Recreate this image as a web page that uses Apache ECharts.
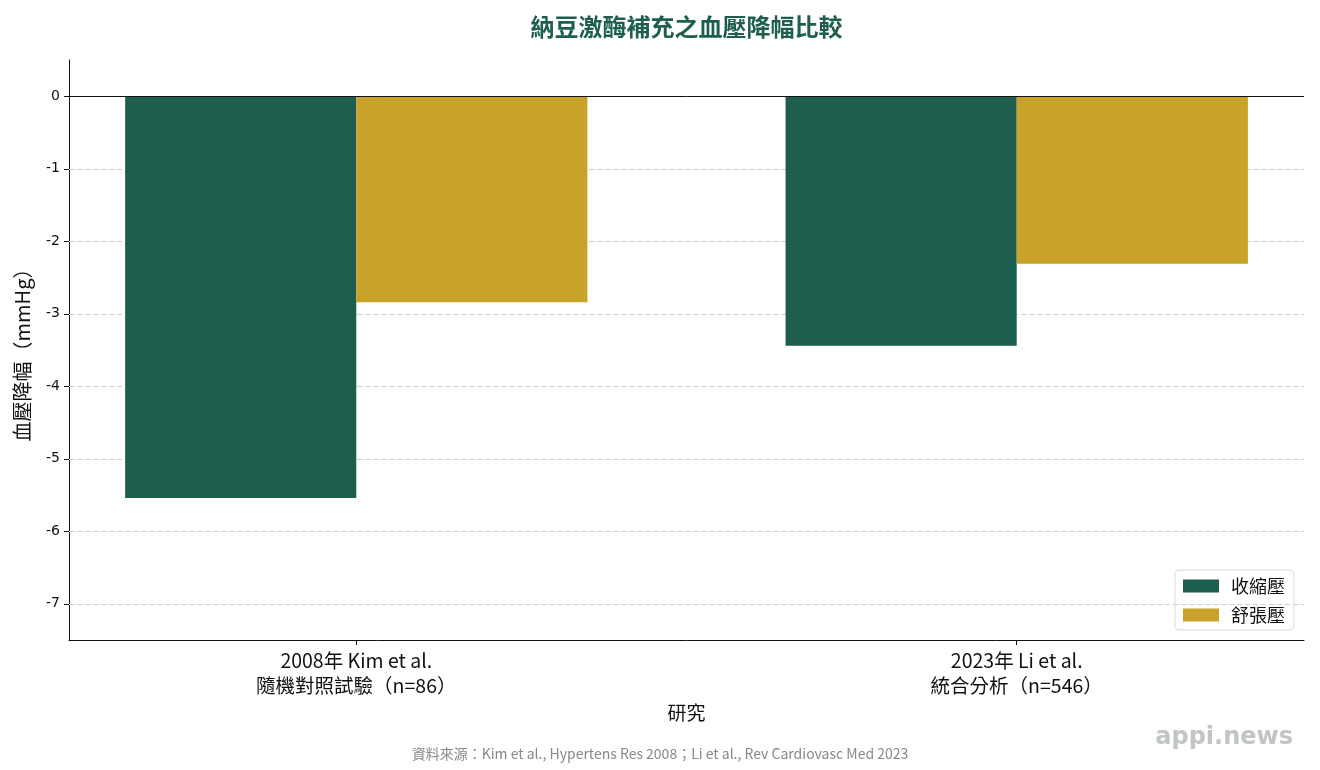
<!DOCTYPE html>
<html><head><meta charset="utf-8">
<script src="https://cdn.jsdelivr.net/npm/echarts@6/dist/echarts.min.js"></script>
<style>html,body{margin:0;padding:0;background:#fff}#c{width:1320px;height:770px}</style>
</head><body><div id="c"></div>
<script>
const categories = ['2008年 Kim et al.\n隨機對照試驗（n=86）', '2023年 Li et al.\n統合分析（n=546）'];
const seriesNames = ['收縮壓', '舒張壓'];
const systolic = [-5.54, -3.44];
const diastolic = [-2.84, -2.31];
const yTicks = [0, -1, -2, -3, -4, -5, -6, -7];
const colors = ['#1e5e4e', '#c9a22a'];
const CJK = '"Noto Sans CJK TC","Noto Sans CJK SC",sans-serif';

const chart = echarts.init(document.getElementById('c'), null, {renderer: 'canvas'});
const gridL = 69, gridR = 1304;
const xMin = -0.435, xMax = 1.435;
const unitPx = (gridR - gridL) / (xMax - xMin);
const barW = 0.35 * unitPx;

function mk(vals) { return vals.map((v, i) => [i, v]); }

chart.setOption({
  animation: false,
  title: {
    text: '納豆激酶補充之血壓降幅比較',
    left: (gridL + gridR) / 2 - 5, top: 10, textAlign: 'center',
    textStyle: {fontFamily: CJK, fontSize: 24, fontWeight: 'bold', color: '#1e5e4e'}
  },
  grid: {left: gridL, right: 1320 - gridR, top: 60, bottom: 770 - 640, containLabel: false},
  legend: {
    orient: 'vertical', right: 26, bottom: 140,
    itemWidth: 36, itemHeight: 13, itemGap: 11,
    padding: [7, 9, 6, 8],
    icon: 'rect',
    borderColor: '#d9d9d9', borderWidth: 1, borderRadius: 4,
    textStyle: {fontFamily: CJK, fontSize: 18, color: '#111', padding: [0, 0, 0, 7]},
    data: seriesNames
  },
  xAxis: {
    type: 'value', min: xMin, max: xMax,
    name: '研究', nameLocation: 'middle', nameGap: 62,
    nameTextStyle: {fontFamily: CJK, fontSize: 19, color: '#111'},
    axisLine: {show: true, onZero: false, lineStyle: {color: '#111', width: 1}},
    axisTick: {show: true, customValues: [0, 1], length: 5, lineStyle: {color: '#111'}},
    axisLabel: {
      customValues: [0, 1], margin: 8,
      formatter: v => categories[Math.round(v)],
      fontFamily: CJK, fontSize: 19.5, color: '#111', lineHeight: 25, align: 'center'
    },
    splitLine: {show: false}
  },
  yAxis: {
    type: 'value', min: -7.5, max: 0.5,
    name: '血壓降幅（mmHg）', nameLocation: 'middle', nameGap: 37, nameRotate: 90,
    nameTextStyle: {fontFamily: CJK, fontSize: 20, color: '#111'},
    axisLine: {show: true, onZero: false, lineStyle: {color: '#111', width: 1}},
    axisTick: {show: true, customValues: yTicks, length: 5, lineStyle: {color: '#111'}},
    axisLabel: {customValues: yTicks, fontFamily: '"DejaVu Sans",sans-serif', fontSize: 14, color: '#111', margin: 9},
    splitLine: {show: false}
  },
  series: [
    {
      name: seriesNames[0], type: 'bar', data: mk(systolic), barWidth: barW, barGap: '0%',
      itemStyle: {color: colors[0]},
      markLine: {
        silent: true, symbol: 'none', label: {show: false}, z: 1,
        data: yTicks.filter(t => t !== 0).map(t => ({yAxis: t, lineStyle: {color: '#cfcfcf', type: [5, 3], width: 1}}))
      }
    },
    {
      name: seriesNames[1], type: 'bar', data: mk(diastolic), barWidth: barW, barGap: '0%',
      itemStyle: {color: colors[1]},
      markLine: {
        silent: true, symbol: 'none', label: {show: false}, z: 10,
        data: [{yAxis: 0, lineStyle: {color: '#111', type: 'solid', width: 1}}]
      }
    }
  ],
  graphic: [
    {type: 'text', left: 'center', top: 747,
     style: {text: '資料來源：Kim et al., Hypertens Res 2008；Li et al., Rev Cardiovasc Med 2023',
             font: '14px "Noto Sans CJK TC"', fill: '#888'}},
    {type: 'text', right: 27, top: 726,
     style: {text: 'appi.news', font: 'bold 24px "DejaVu Sans"', fill: '#c1c6c4'}}
  ]
});
</script></body></html>
